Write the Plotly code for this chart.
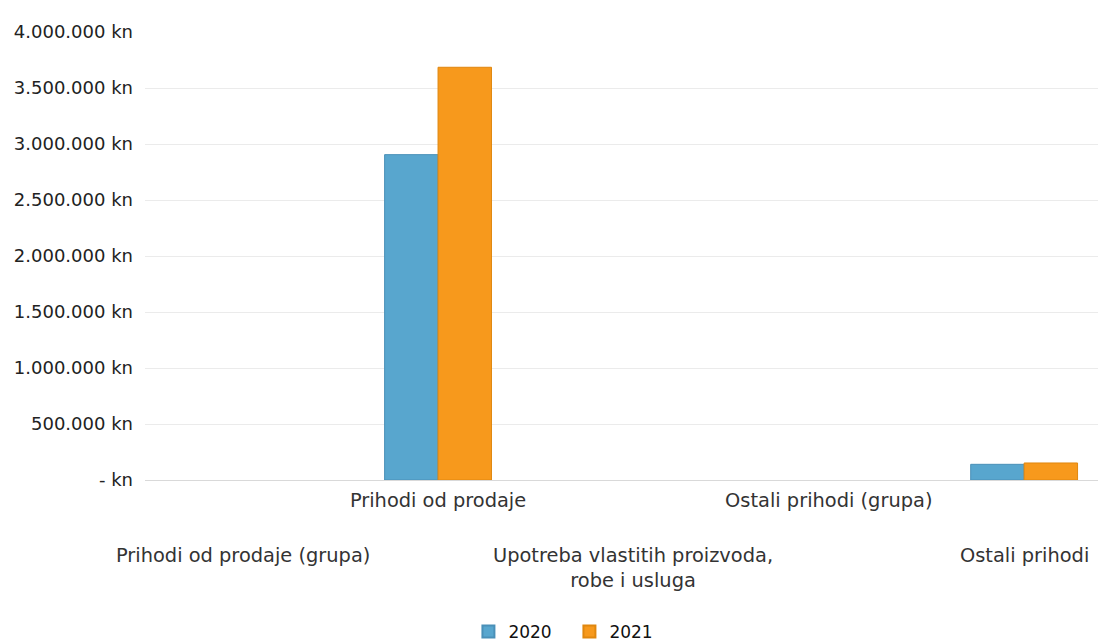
import plotly.graph_objects as go

categories = [
    "Prihodi od prodaje (grupa)",
    "Prihodi od prodaje",
    "Upotreba vlastitih proizvoda,<br>robe i usluga",
    "Ostali prihodi (grupa)",
    "Ostali prihodi",
]
values_2020 = [None, 2905000, None, None, 140000]
values_2021 = [None, 3685000, None, None, 152000]
series_names = ["2020", "2021"]
colors = ["#58A6CE", "#F7991C"]
edge_colors = ["#4A90B8", "#E0870F"]

ytick_vals = [0, 500000, 1000000, 1500000, 2000000, 2500000, 3000000, 3500000, 4000000]
ytick_text = ["- kn", "500.000 kn", "1.000.000 kn", "1.500.000 kn", "2.000.000 kn",
              "2.500.000 kn", "3.000.000 kn", "3.500.000 kn", "4.000.000 kn"]

# staggered category labels: odd index on first row (ticks), even index on second row
row1 = [c for i, c in enumerate(categories) if i % 2 == 1]
row2 = [c for i, c in enumerate(categories) if i % 2 == 0]

FONT = "DejaVu Sans"
fig = go.Figure()
for name, vals, col, ecol in zip(series_names, [values_2020, values_2021], colors, edge_colors):
    fig.add_trace(go.Bar(
        x=categories, y=vals, name=name,
        marker=dict(color=col, line=dict(color=ecol, width=1)),
    ))

fig.update_layout(
    width=1106, height=642,
    margin=dict(l=136.5, r=0, t=24, b=162),
    paper_bgcolor="white", plot_bgcolor="white",
    barmode="group", bargap=0.453, bargroupgap=0,
    font=dict(family=FONT, size=18, color="#222222"),
    showlegend=True,
    legend=dict(orientation="h", x=0.438, xanchor="center", y=-0.30, yanchor="top",
                font=dict(family=FONT, size=17, color="#111111"),
                itemsizing="constant", entrywidth=56, entrywidthmode="pixels"),
)
fig.update_xaxes(
    type="category", categoryorder="array", categoryarray=categories,
    range=[-0.5, 4.46],
    tickmode="array", tickvals=row1, ticktext=row1,
    tickfont=dict(family=FONT, size=19.4, color="#333333"),
    ticks="", ticklabelstandoff=7,
    showgrid=False, showline=False, zeroline=False,
)
fig.update_yaxes(
    range=[0, 4000000],
    tickmode="array", tickvals=ytick_vals, ticktext=ytick_text,
    tickfont=dict(family=FONT, size=18, color="#222222"),
    ticks="", ticklabelstandoff=11,
    showgrid=True, gridcolor="#EBEBEB", gridwidth=1,
    zeroline=True, zerolinecolor="#D9D9D9", zerolinewidth=1,
    showline=False,
)
for c in row2:
    fig.add_annotation(
        x=c, xref="x", y=0, yref="paper", yanchor="top", yshift=-62,
        text=c, showarrow=False, align="center",
        font=dict(family=FONT, size=19.4, color="#333333"),
    )

fig.write_html("out.html")
